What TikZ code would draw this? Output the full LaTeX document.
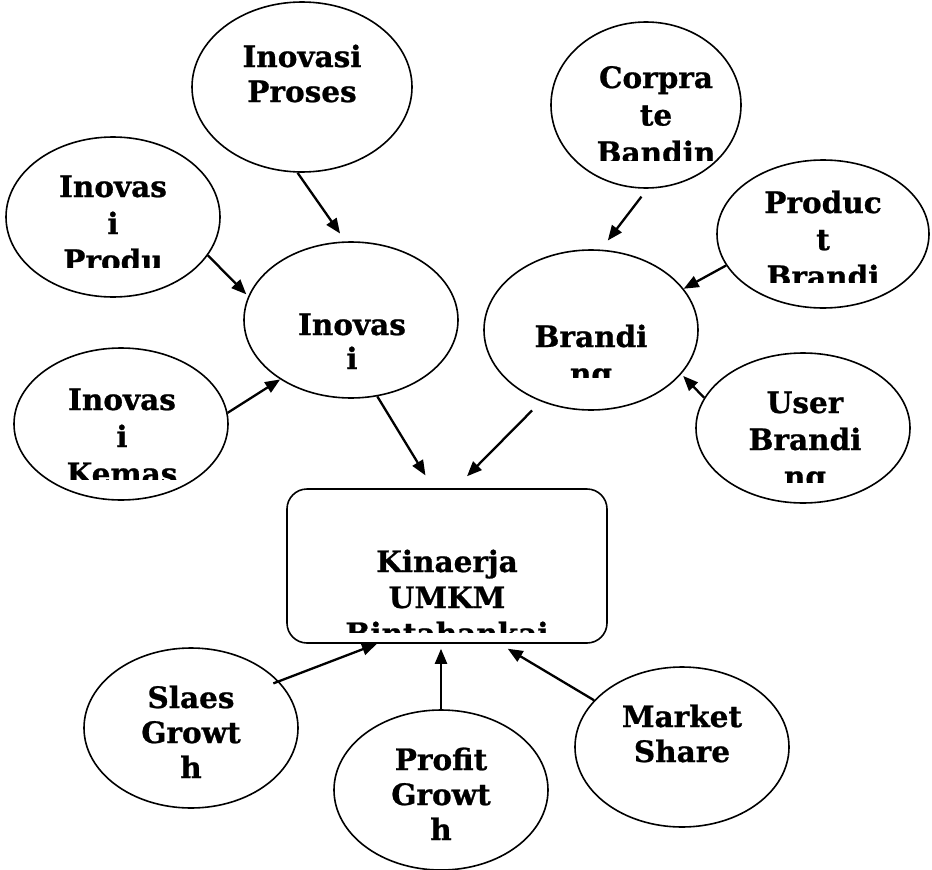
\documentclass[tikz,border=0pt]{standalone}
\usepackage{fontspec}
\setmainfont{DejaVu Serif}[BoldFeatures={FakeBold=0.8}]
\usetikzlibrary{arrows.meta,shapes.geometric}

% centred lines whose box baseline is the first line's baseline
\newcommand\stacklines[2][37pt]{\vtop{\baselineskip=#1\lineskiplimit=-50pt\halign{\hfil##\hfil\cr#2\crcr}}}

\begin{document}
\begin{tikzpicture}[x=1pt,y=-1pt,
  bubble/.style={draw,ellipse,line width=1.6pt,inner sep=0pt},
  panel/.style={draw,rectangle,rounded corners=20pt,line width=1.6pt,inner sep=0pt},
  txt/.style={anchor=base,inner sep=0pt,font=\bfseries\fontsize{29.5}{37}\selectfont},
  link/.style={line width=2.3pt,-{Triangle[length=15pt,width=12pt]}}]

\useasboundingbox (0,0) rectangle (932,870);

% shapes
\node[bubble,minimum width=220pt,minimum height=170pt] (proses)  at (302,87)  {};
\node[bubble,minimum width=214pt,minimum height=160pt] (produ)   at (113,217) {};
\node[bubble,minimum width=214pt,minimum height=156pt] (inov)    at (351,320) {};
\node[bubble,minimum width=214pt,minimum height=152pt] (kemas)   at (121,424) {};
\node[bubble,minimum width=190pt,minimum height=166pt] (corp)    at (646,105) {};
\node[bubble,minimum width=212pt,minimum height=148pt] (product) at (823,234) {};
\node[bubble,minimum width=214pt,minimum height=160pt] (brand)   at (591,330) {};
\node[bubble,minimum width=214pt,minimum height=150pt] (user)    at (803,428) {};
\node[panel,minimum width=320pt,minimum height=154pt]  (kin)     at (447,566) {};
\node[bubble,minimum width=214pt,minimum height=160pt] (slaes)   at (191,728) {};
\node[bubble,minimum width=214pt,minimum height=160pt] (profit)  at (441,790) {};
\node[bubble,minimum width=214pt,minimum height=160pt] (market)  at (682,747) {};

% texts (some are cut off by their box)
\node[txt] (tproses) at (302,67) {\stacklines[35pt]{Inovasi\cr Proses}};
\begin{scope}
  \clip (0,130) rectangle (240,267);
  \node[txt] (tprodu) at (113,197) {\stacklines{Inovas\cr i\cr Produ}};
\end{scope}
\begin{scope}
  \clip (240,240) rectangle (470,373);
  \node[txt] (tinov) at (352,335) {\stacklines[34pt]{Inovas\cr i}};
\end{scope}
\begin{scope}
  \clip (0,340) rectangle (240,479);
  \node[txt] (tkemas) at (122,410) {\stacklines{Inovas\cr i\cr Kemas}};
\end{scope}
\begin{scope}
  \clip (540,15) rectangle (750,160);
  \node[txt] (tcorp) at (656,88) {\stacklines[37.5pt]{Corpra\cr te\cr Bandin}};
\end{scope}
\begin{scope}
  \clip (700,150) rectangle (932,282);
  \node[txt] (tproduct) at (823,213) {\stacklines{Produc\cr t\cr Brandi}};
\end{scope}
\begin{scope}
  \clip (470,240) rectangle (710,377);
  \node[txt] (tbrand) at (591,347) {\stacklines{Brandi\cr ng}};
\end{scope}
\begin{scope}
  \clip (690,345) rectangle (920,482);
  \node[txt] (tuser) at (805,413) {\stacklines{User\cr Brandi\cr ng}};
\end{scope}
\begin{scope}
  \clip (290,490) rectangle (605,632);
  \node[txt] (tkin) at (447,572) {\stacklines[36pt]{Kinaerja\cr UMKM\cr Bintahankai}};
\end{scope}
\node[txt] (tslaes)  at (191,708) {\stacklines[35pt]{Slaes\cr Growt\cr h}};
\node[txt] (tprofit) at (441,770) {\stacklines[35pt]{Profit\cr Growt\cr h}};
\node[txt] (tmarket) at (682,727) {\stacklines[35pt]{Market\cr Share}};

% connectors
\draw[link,shorten >=9.5pt] (proses.267) -- (inov.94);
\draw[link,shorten >=2.7pt] (produ.338) -- (inov.167);
\draw[link] (kemas.6) -- (inov.220);
\draw[link,shorten >=15pt] (inov.289) -- (kin.100);
\draw[link,shorten <=12.6pt,shorten >=16.8pt] (brand.235) -- (kin.84);
\draw[link,shorten <=9.9pt,shorten >=11.4pt] (corp.271) -- (brand.83);
\draw[link] (product.198) -- (brand.24);
\draw[link,shorten >=2.6pt] (user.163) -- (brand.334);
\draw[link,shorten <=-6pt] (slaes.28) -- (kin.228);
\draw[link,shorten >=5pt] (profit.north) -- (profit.north |- kin.south);
\draw[link,shorten >=9.6pt] (market.152) -- (kin.304);
\end{tikzpicture}
\end{document}
